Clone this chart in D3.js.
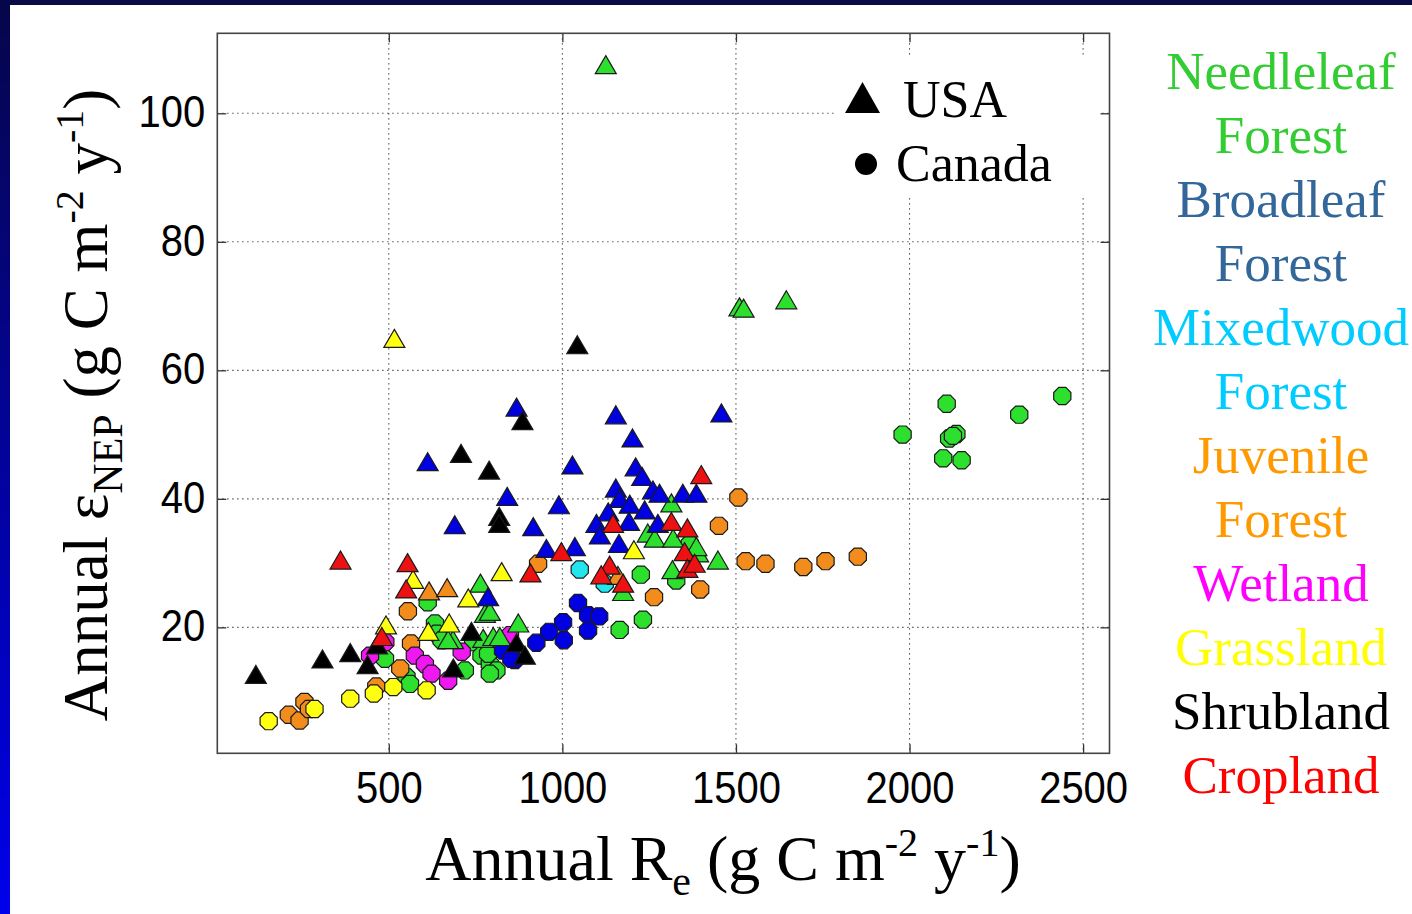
<!DOCTYPE html>
<html>
<head>
<meta charset="utf-8">
<script src="https://cdn.jsdelivr.net/npm/d3@7"></script>
<style>
  html, body { margin: 0; padding: 0; background: #ffffff; }
  svg { display: block; }
</style>
</head>
<body>
<svg id="chart" width="1412" height="914"></svg>
<script>
// ---------------- DATA ----------------
const categories = ["Needleleaf Forest", "Broadleaf Forest", "Mixedwood Forest", "Juvenile Forest",
                    "Wetland", "Grassland", "Shrubland", "Cropland"];
const legendLines = [["Needleleaf", "Forest"], ["Broadleaf", "Forest"], ["Mixedwood", "Forest"],
                     ["Juvenile", "Forest"], ["Wetland"], ["Grassland"], ["Shrubland"], ["Cropland"]];
const xTicks = [500, 1000, 1500, 2000, 2500];
const yTicks = [20, 40, 60, 80, 100];
const countries = ["USA", "Canada"];

// [Re, eNEP] pairs; USA = triangles, Canada = circles
const needleleafUSA = [[1125,107.5],[1510,69.8],[1522,69.6],[1645,70.9],[1314,39.3],[1246,34.6],[1266,33.8],
  [1319,33.8],[1391,31.5],[1386,32.5],[1448,30.4],[1317,28.9],[1175,25.5],[764,26.8],[777,22.1],[791,22.4],
  [873,20.6],[685,18.0],[772,18.2],[801,18.5],[820,18.5],[671,18.0]];
const needleleafCanada = [[612,23.9],[633,20.6],[638,19.0],[652,18.0],[489,15.1],[551,12.3],[561,11.2],
  [743,17.7],[767,15.6],[791,14.3],[810,13.3],[791,12.8],[719,13.3],[786,15.9],[1226,28.2],[1232,21.2],
  [1165,19.6],[1367,33.0],[1328,27.3],[1980,50.0],[2107,54.8],[2114,49.4],[2135,50.1],[2125,49.8],
  [2097,46.3],[2150,46.0],[2316,53.1],[2440,56.0]];
const broadleafUSA = [[612,45.7],[868,54.2],[1154,53.0],[1458,53.3],[1202,49.4],[1029,45.2],[1211,44.9],
  [1230,43.4],[1261,41.3],[1154,41.6],[1165,40.0],[1194,39.1],[841,40.3],[690,35.9],[916,35.6],[990,39.0],
  [1132,37.9],[1098,36.1],[1108,34.3],[1192,36.4],[1237,38.2],[1275,36.1],[1163,33.0],[954,32.2],[1036,32.5],
  [786,24.7],[1347,40.8],[1386,40.8],[1280,40.8]];
const broadleafCanada = [[1045,23.8],[1074,21.9],[1106,21.7],[1074,19.5],[1002,20.8],[1004,18.0],[962,19.3],
  [925,17.6],[863,14.9],[829,16.4],[853,15.1]];
const mixedwoodCanada = [[1050,29.0],[1122,26.8]];
const juvenileUSA = [[616,25.6],[668,26.1],[1160,28.0]];
const juvenileCanada = [[555,22.5],[564,17.5],[533,13.6],[464,10.8],[257,8.4],[212,6.4],[243,5.5],[270,7.3],
  [930,29.9],[1264,24.7],[1507,40.2],[1451,35.8],[1397,25.9],[1528,30.3],[1585,29.9],[1694,29.4],
  [1758,30.3],[1851,31.0]];
const wetlandCanada = [[490,17.7],[446,15.6],[575,15.6],[604,14.3],[623,12.8],[671,11.7],[710,16.2],[849,18.8]];
const grasslandUSA = [[516,64.9],[570,27.4],[492,20.3],[614,19.3],[674,20.6],[729,24.5],[825,28.6],[1206,32.0]];
const grasslandCanada = [[389,8.9],[457,9.7],[513,10.7],[609,10.2],[286,7.3],[154,5.4]];
const shrublandUSA = [[1043,63.9],[885,52.1],[708,47.0],[789,44.4],[818,37.2],[818,36.1],[466,17.2],
  [439,14.1],[389,16.0],[309,15.0],[117,12.6],[738,19.3],[868,17.5],[892,15.6],[686,13.6]];
const croplandUSA = [[361,30.4],[554,30.0],[550,25.9],[480,18.5],[997,31.7],[908,28.4],[1136,29.6],[1112,28.1],
  [1175,26.8],[1146,36.1],[1400,43.7],[1314,36.4],[1360,35.4],[1352,31.7],[1360,29.1],[1381,29.9]];

// ---------------- STYLE ----------------
const markerColors = ["#2ee02e", "#0000e0", "#22e5ee", "#f28c1c", "#f018f0", "#ffff10", "#000000", "#ee1111"];
const labelColors = ["#33cc33", "#336699", "#00ccff", "#ff9900", "#ff00ff", "#ffff00", "#000000", "#ff0000"];

const circleSets = [needleleafCanada, broadleafCanada, mixedwoodCanada, juvenileCanada, wetlandCanada,
                    grasslandCanada, [], []];
const triangleSets = [needleleafUSA, broadleafUSA, [], juvenileUSA, [], grasslandUSA, shrublandUSA, croplandUSA];

const svg = d3.select("#chart");

// background frame
const defs = svg.append("defs");
const grad = defs.append("linearGradient").attr("id", "leftGrad")
  .attr("x1", 0).attr("y1", 0).attr("x2", 0).attr("y2", 1);
grad.append("stop").attr("offset", "0%").attr("stop-color", "#06064a");
grad.append("stop").attr("offset", "100%").attr("stop-color", "#0000ec");
svg.append("rect").attr("x", 0).attr("y", 0).attr("width", 1412).attr("height", 914).attr("fill", "#ffffff");
svg.append("rect").attr("x", 0).attr("y", 0).attr("width", 1412).attr("height", 5).attr("fill", "#0a0a48");
svg.append("rect").attr("x", 0).attr("y", 0).attr("width", 10).attr("height", 914).attr("fill", "url(#leftGrad)");

// ---------------- SCALES ----------------
const L = 217.3, R = 1109.5, T = 33.3, B = 753.3;
const x = d3.scaleLinear().domain([6, 2576]).range([L, R]);
const y = d3.scaleLinear().domain([0.4, 112.45]).range([B, T]);

// grid
const grid = svg.append("g").attr("stroke", "#333").attr("stroke-width", 1.1).attr("stroke-dasharray", "1.2,3.8");
grid.selectAll("line.v").data(xTicks).join("line")
  .attr("x1", d => x(d)).attr("x2", d => x(d)).attr("y1", T).attr("y2", B);
grid.selectAll("line.h").data(yTicks).join("line")
  .attr("x1", L).attr("x2", R).attr("y1", d => y(d)).attr("y2", d => y(d));

// axes
const tickFont = "'Liberation Sans', Arial, sans-serif";
function styleAxis(g) {
  g.select(".domain").remove();
  g.selectAll(".tick line").attr("stroke", "#333").attr("stroke-width", 1.3);
  g.selectAll(".tick text").attr("font-family", tickFont).attr("font-size", 40).attr("fill", "#000")
    .attr("transform", "scale(1,1.12)");
}
svg.append("g").attr("transform", `translate(0,${B})`)
  .call(d3.axisBottom(x).tickValues(xTicks).tickSize(-9).tickPadding(16).tickFormat(d3.format("d")))
  .call(styleAxis);
svg.append("g").attr("transform", `translate(0,${T})`)
  .call(d3.axisTop(x).tickValues(xTicks).tickSize(-9).tickFormat(""))
  .call(styleAxis);
svg.append("g").attr("transform", `translate(${L},0)`)
  .call(d3.axisLeft(y).tickValues(yTicks).tickSize(-9).tickPadding(12).tickFormat(d3.format("d")))
  .call(g => {
    g.select(".domain").remove();
    g.selectAll(".tick line").attr("stroke", "#333").attr("stroke-width", 1.3);
    g.selectAll(".tick text").attr("font-family", tickFont).attr("font-size", 40).attr("fill", "#000")
      .attr("transform", "scale(1,1.1)").attr("dy", "0.3em");
  });
svg.append("g").attr("transform", `translate(${R},0)`)
  .call(d3.axisRight(y).tickValues(yTicks).tickSize(-9).tickFormat(""))
  .call(styleAxis);

// ---------------- MARKERS ----------------
const octR = 9.3;
const octagon = d3.range(8).map(k => {
  const a = Math.PI / 8 + k * Math.PI / 4;
  return [octR * Math.cos(a), octR * Math.sin(a)];
});
const octPath = "M" + octagon.map(p => p.join(",")).join("L") + "Z";
const triW = 21, triH = 17;
const triPath = `M0,${-triH / 2 - 1}L${triW / 2},${triH / 2}L${-triW / 2},${triH / 2}Z`;

const marks = svg.append("g");
circleSets.forEach((set, i) => {
  marks.append("g").selectAll("path").data(set).join("path")
    .attr("d", octPath)
    .attr("transform", d => `translate(${x(d[0])},${y(d[1])})`)
    .attr("fill", markerColors[i]).attr("stroke", "#1a1a1a").attr("stroke-width", 1.2);
});
triangleSets.forEach((set, i) => {
  marks.append("g").selectAll("path").data(set).join("path")
    .attr("d", triPath)
    .attr("transform", d => `translate(${x(d[0])},${y(d[1])})`)
    .attr("fill", markerColors[i]).attr("stroke", "#1a1a1a").attr("stroke-width", 1.2);
});

// axes box
svg.append("rect").attr("x", L).attr("y", T).attr("width", R - L).attr("height", B - T)
  .attr("fill", "none").attr("stroke", "#444").attr("stroke-width", 1.6);

// ---------------- LEGEND (country) ----------------
const serif = "'Liberation Serif', 'Times New Roman', serif";
svg.append("rect").attr("x", 835).attr("y", 55).attr("width", 265).attr("height", 140).attr("fill", "#fff");
svg.append("path").attr("d", "M862.5,82L880,113L845,113Z").attr("fill", "#000");
svg.append("text").attr("x", 903).attr("y", 117).attr("font-family", serif).attr("font-size", 52)
  .attr("fill", "#000").text(countries[0]);
svg.append("circle").attr("cx", 866).attr("cy", 164).attr("r", 11).attr("fill", "#000");
svg.append("text").attr("x", 896).attr("y", 181).attr("font-family", serif).attr("font-size", 52)
  .attr("fill", "#000").text(countries[1]);

// ---------------- LEGEND (categories) ----------------
let line = 0;
legendLines.forEach((words, i) => {
  words.forEach(w => {
    svg.append("text").attr("x", 1281).attr("y", 89 + line * 64)
      .attr("text-anchor", "middle").attr("font-family", serif).attr("font-size", 53)
      .attr("fill", labelColors[i]).text(w);
    line++;
  });
});

// ---------------- AXIS TITLES ----------------
const xt = svg.append("text").attr("x", 723).attr("y", 880).attr("text-anchor", "middle")
  .attr("font-family", serif).attr("font-size", 64).attr("fill", "#000");
xt.append("tspan").text("Annual R");
xt.append("tspan").attr("font-size", 42).attr("dy", 15).text("e");
xt.append("tspan").attr("dy", -15).text(" (g C m");
xt.append("tspan").attr("font-size", 40).attr("dy", -24).text("-2");
xt.append("tspan").attr("dy", 24).text(" y");
xt.append("tspan").attr("font-size", 40).attr("dy", -24).text("-1");
xt.append("tspan").attr("dy", 24).text(")");

const yt = svg.append("text").attr("transform", "translate(107,405) rotate(-90)").attr("text-anchor", "middle")
  .attr("font-family", serif).attr("font-size", 63).attr("fill", "#000");
yt.append("tspan").text("Annual ε");
yt.append("tspan").attr("font-size", 42).attr("dy", 15).text("NEP");
yt.append("tspan").attr("dy", -15).text(" (g C m");
yt.append("tspan").attr("font-size", 40).attr("dy", -24).text("-2");
yt.append("tspan").attr("dy", 24).text(" y");
yt.append("tspan").attr("font-size", 40).attr("dy", -24).text("-1");
yt.append("tspan").attr("dy", 24).text(")");
</script>
</body>
</html>
